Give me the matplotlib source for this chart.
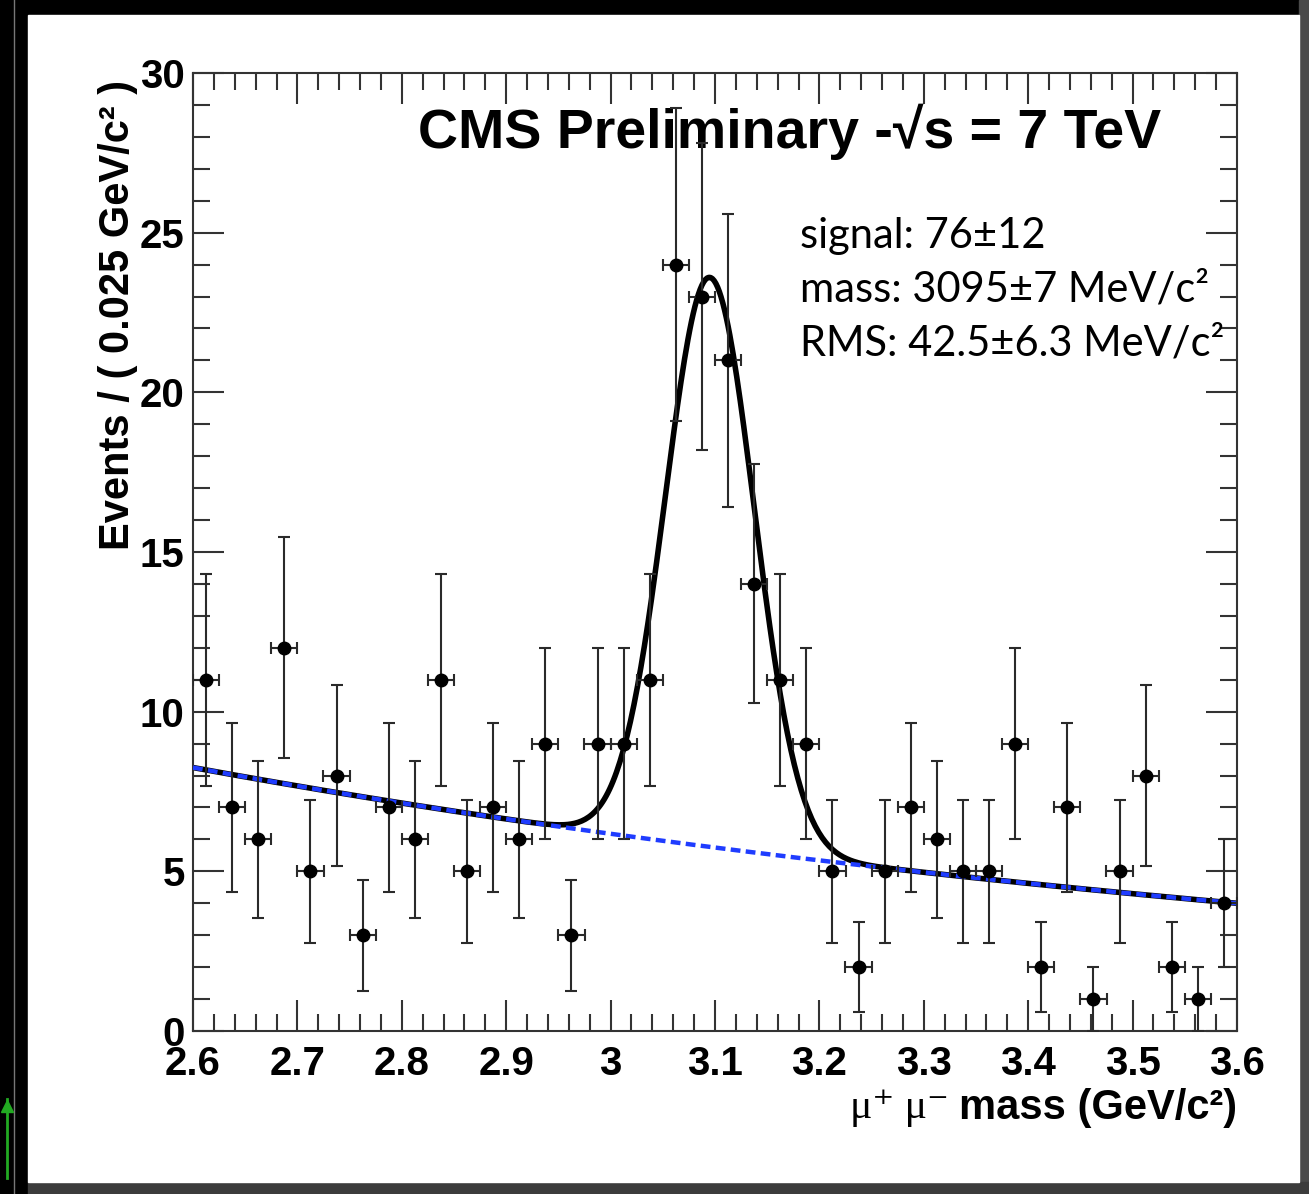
import numpy as np
import matplotlib
matplotlib.use("Agg")
import matplotlib.pyplot as plt
from matplotlib.ticker import MultipleLocator, FormatStrFormatter
from matplotlib.patches import Rectangle
from matplotlib.lines import Line2D

# datos del histograma (eventos por bin de 0.025 GeV/c^2)
x_min, x_max, bin_width = 2.6, 3.6, 0.025
counts = [11, 7, 6, 12, 5, 8, 3, 7, 6, 11,
          5, 7, 6, 9, 3, 9, 9, 11, 24, 23,
          21, 14, 11, 9, 5, 2, 5, 7, 6, 5,
          5, 9, 2, 7, 1, 5, 8, 2, 1, 4]

# parametros del ajuste
signal_yield = 76.0
peak_mass = 3.095
peak_rms = 0.0425
bkg_norm = 8.25     # fondo en 2.6 GeV
bkg_slope = 0.724   # pendiente exponencial

title_text = "CMS Preliminary -\u221as = 7 TeV"
stats_lines = ["signal: 76\u00b112",
               "mass: 3095\u00b17 MeV/c\u00b2",
               "RMS: 42.5\u00b16.3 MeV/c\u00b2"]

W, H = 1309, 1194
fig = plt.figure(figsize=(W / 100, H / 100), dpi=100, facecolor="black")

# marco del lienzo (estilo captura de ROOT)
fig.add_artist(Rectangle((1299 / W, 0), 10 / W, 1, transform=fig.transFigure,
                         color="#4a4a4a", zorder=0))
fig.add_artist(Rectangle((28 / W, 0), 1, 12 / H, transform=fig.transFigure,
                         color="#3c3c3c", zorder=0))
fig.add_artist(Rectangle((28 / W, 12 / H), (1299 - 28) / W, (1179 - 12) / H,
                         transform=fig.transFigure, color="white", zorder=0))
fig.add_artist(Line2D([14 / W, 14 / W], [0, 1], transform=fig.transFigure,
                      color="#777777", lw=1))
fig.add_artist(Line2D([7 / W, 7 / W], [16 / H, 95 / H], transform=fig.transFigure,
                      color="#22aa22", lw=2))
fig.add_artist(Line2D([7 / W], [88 / H], transform=fig.transFigure, marker="^",
                      color="#22aa22", markersize=9))

ax = fig.add_axes([193 / W, 163 / H, (1237 - 193) / W, (1031 - 73) / H])

edges = np.linspace(x_min, x_max, len(counts) + 1)
centers = 0.5 * (edges[:-1] + edges[1:])
y = np.array(counts, dtype=float)
yerr = np.sqrt(y)

# curva del ajuste: fondo exponencial + gaussiana
xf = np.linspace(x_min, x_max, 600)
bkg = bkg_norm * np.exp(-bkg_slope * (xf - x_min))
gauss = signal_yield * bin_width / (np.sqrt(2 * np.pi) * peak_rms) * \
    np.exp(-0.5 * ((xf - peak_mass) / peak_rms) ** 2)

ax.plot(xf, bkg + gauss, color="black", lw=4.0, zorder=2)
ax.plot(xf, bkg, color="#1f3cff", lw=3.2, dashes=(2.2, 1.2), zorder=3)

ax.errorbar(centers, y, yerr=yerr, xerr=bin_width / 2, fmt="o", color="black",
            ecolor="#2a2a2a", elinewidth=1.5, capsize=4, capthick=1.5,
            markersize=9, zorder=4)

ax.set_xlim(x_min, x_max)
ax.set_ylim(0, 30)
ax.xaxis.set_major_locator(MultipleLocator(0.1))
ax.xaxis.set_minor_locator(MultipleLocator(0.02))
ax.yaxis.set_major_locator(MultipleLocator(5))
ax.yaxis.set_minor_locator(MultipleLocator(1))
ax.xaxis.set_major_formatter(FormatStrFormatter("%g"))
ax.tick_params(which="both", direction="in", top=True, right=True,
               width=1.5, color="#333333")
ax.tick_params(which="major", length=22)
ax.tick_params(which="minor", length=12)
ax.tick_params(axis="x", which="major", pad=10)
ax.tick_params(axis="y", which="major", pad=6)
for lab in ax.get_xticklabels() + ax.get_yticklabels():
    lab.set_family("Liberation Sans")
    lab.set_fontweight("bold")
    lab.set_fontsize(29)
for s in ax.spines.values():
    s.set_linewidth(1.5)
    s.set_color("#333333")

sans = ["Liberation Sans", "DejaVu Sans"]
ax.text(0.2155, 0.9217, title_text, transform=ax.transAxes, ha="left",
        va="baseline", fontsize=40, fontweight="bold", family=sans)

for i, line in enumerate(stats_lines):
    ax.text(0.5814, (1031 - 248 - 54 * i) / 958, line, transform=ax.transAxes,
            ha="left", va="baseline", fontsize=30, family=["Lato", "DejaVu Sans"])

ax.text(-0.072, 0.993, "Events / ( 0.025 GeV/c\u00b2 )", transform=ax.transAxes,
        rotation=90, ha="center", va="top", fontsize=30, fontweight="bold",
        family=sans)

xl = ax.text(1.0, -0.080, "mass (GeV/c\u00b2)", transform=ax.transAxes,
             ha="right", va="center", fontsize=30, fontweight="bold", family=sans)
ax.annotate("\u03bc\u207a \u03bc\u207b ", xy=(0, 0.5), xycoords=xl, ha="right",
            va="center", fontsize=30, family=["Liberation Serif", "DejaVu Serif"])

fig.savefig("out.png", dpi=100, facecolor=fig.get_facecolor())
